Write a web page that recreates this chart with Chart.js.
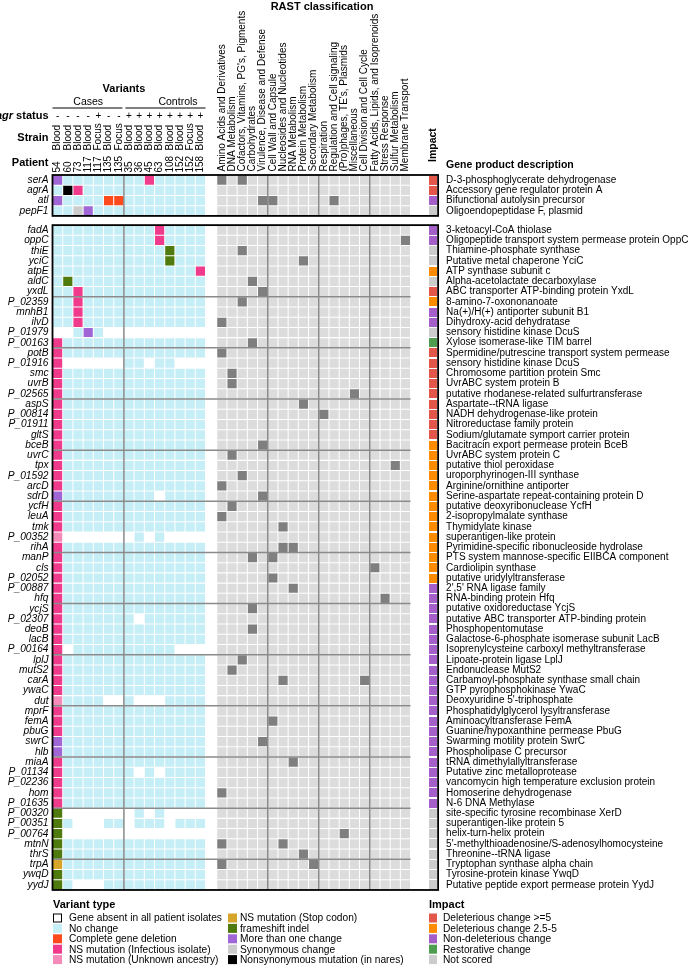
<!DOCTYPE html>
<html>
<head>
<meta charset="utf-8">
<title>Variants and RAST classification</title>
<script src="https://cdn.jsdelivr.net/npm/chart.js@4.4.1/dist/chart.umd.min.js"></script>
<style>
  html, body { margin: 0; padding: 0; background: #fff; }
  canvas { display: block; }
</style>
</head>
<body>
<canvas id="chart" width="692" height="969"></canvas>
<script>
// ---- data ----
const patients = ['54', '60', '73', '117', '117', '135', '135', '35', '36', '45', '63', '108', '152', '152', '158'];
const strains = ['Blood', 'Blood', 'Blood', 'Blood', 'Focus', 'Blood', 'Focus', 'Blood', 'Blood', 'Blood', 'Blood', 'Blood', 'Blood', 'Focus', 'Blood'];
const agrStatus = ['-', '-', '-', '-', '+', '-', '-', '+', '+', '+', '+', '+', '+', '+', '+'];
const groupNames = ['Cases', 'Controls'];
const groupSizes = [7, 8];

const rastCategories = [
  'Amino Acids and Derivatives', 'DNA Metabolism', "Cofactors, Vitamins, PG's, Pigments", 'Carbohydrates',
  'Virulence, Disease and Defense', 'Cell Wall and Capsule', 'Nucleosides and Nucleotides', 'RNA Metabolism',
  'Protein Metabolism', 'Secondary Metabolism', 'Respiration', 'Regulation and Cell signaling',
  "(Pro)phages, TE's, Plasmids", 'Miscellaneous', 'Cell Division and Cell Cycle',
  'Fatty Acids, Lipids, and Isoprenoids', 'Stress Response', 'Sulfur Metabolism', 'Membrane Transport'
];

// first 4 genes form the upper panel
const topRows = 4;
const genes = [
  'serA', 'agrA', 'atl', 'pepF1',
  'fadA', 'oppC', 'thiE', 'yciC', 'atpE', 'aldC', 'yxdL', 'P_02359', 'mnhB1', 'ilvD', 'P_01979', 'P_00163',
  'potB', 'P_01916', 'smc', 'uvrB', 'P_02565', 'aspS', 'P_00814', 'P_01911', 'gltS', 'bceB', 'uvrC', 'tpx',
  'P_01592', 'arcD', 'sdrD', 'ycfH', 'leuA', 'tmk', 'P_00352', 'rihA', 'manP', 'cls', 'P_02052', 'P_00887',
  'hfq', 'ycjS', 'P_02307', 'deoB', 'lacB', 'P_00164', 'lplJ', 'mutS2', 'carA', 'ywaC', 'dut', 'mprF', 'femA',
  'pbuG', 'swrC', 'hlb', 'miaA', 'P_01134', 'P_02236', 'hom', 'P_01635', 'P_00320', 'P_00351', 'P_00764',
  'mtnN', 'thrS', 'trpA', 'ywqD', 'yydJ'
];

const descriptions = [
  'D-3-phosphoglycerate dehydrogenase', 'Accessory gene regulator protein A', 'Bifunctional autolysin precursor',
  'Oligoendopeptidase F, plasmid',
  '3-ketoacyl-CoA thiolase', 'Oligopeptide transport system permease protein OppC', 'Thiamine-phosphate synthase',
  'Putative metal chaperone YciC', 'ATP synthase subunit c', 'Alpha-acetolactate decarboxylase',
  'ABC transporter ATP-binding protein YxdL', '8-amino-7-oxononanoate', 'Na(+)/H(+) antiporter subunit B1',
  'Dihydroxy-acid dehydratase', 'sensory histidine kinase DcuS', 'Xylose isomerase-like TIM barrel',
  'Spermidine/putrescine transport system permease', 'sensory histidine kinase DcuS',
  'Chromosome partition protein Smc', 'UvrABC system protein B', 'putative rhodanese-related sulfurtransferase',
  'Aspartate--tRNA ligase', 'NADH dehydrogenase-like protein', 'Nitroreductase family protein',
  'Sodium/glutamate symport carrier protein', 'Bacitracin export permease protein BceB', 'UvrABC system protein C',
  'putative thiol peroxidase', 'uroporphyrinogen-III synthase', 'Arginine/ornithine antiporter',
  'Serine-aspartate repeat-containing protein D', 'putative deoxyribonuclease YcfH', '2-isopropylmalate synthase',
  'Thymidylate kinase', 'superantigen-like protein', 'Pyrimidine-specific ribonucleoside hydrolase',
  'PTS system mannose-specific EIIBCA component', 'Cardiolipin synthase', 'putative uridylyltransferase',
  "2',5' RNA ligase family", 'RNA-binding protein Hfq', 'putative oxidoreductase YcjS',
  'putative ABC transporter ATP-binding protein', 'Phosphopentomutase', 'Galactose-6-phosphate isomerase subunit LacB',
  'Isoprenylcysteine carboxyl methyltransferase', 'Lipoate-protein ligase LplJ', 'Endonuclease MutS2',
  'Carbamoyl-phosphate synthase small chain', 'GTP pyrophosphokinase YwaC', "Deoxyuridine 5'-triphosphate",
  'Phosphatidylglycerol lysyltransferase', 'Aminoacyltransferase FemA', 'Guanine/hypoxanthine permease PbuG',
  'Swarming motility protein SwrC', 'Phospholipase C precursor', 'tRNA dimethylallyltransferase',
  'Putative zinc metalloprotease', 'vancomycin high temperature exclusion protein', 'Homoserine dehydrogenase',
  'N-6 DNA Methylase', 'site-specific tyrosine recombinase XerD', 'superantigen-like protein 5',
  'helix-turn-helix protein', "5'-methylthioadenosine/S-adenosylhomocysteine", 'Threonine--tRNA ligase',
  'Tryptophan synthase alpha chain', 'Tyrosine-protein kinase YwqD', 'Putative peptide export permease protein YydJ'
];

// one character per patient column:
// o absent, . no change, D deletion, P NS (infectious), U NS (unknown ancestry),
// S stop codon, F frameshift, M more than one change, Y synonymous, N nares
const calls = [
  'M........P.....', '.NP............', 'M....DD........', '..YM...........',
  '..........P....', '..........P....', '...........F...', '...........F...', '..............P',
  '.F.............', '..P............', '..P............', '..P............', '..P............',
  'oo.M.oooooooooo', 'P..............', 'P..............', 'Poooooo..o..ooo', 'P..............',
  'P..............', 'P..............', 'P..............', 'P..............', 'P..............',
  'P..............', 'P..............', 'P..............', 'P..............', 'P..............',
  'P..............', 'M.........o....', 'P..............', 'P..............', 'P..............',
  'Uooooooo.o.oooo', 'P..............', 'P..............', 'P..............', 'P..............',
  'P..............', 'P..............', 'P..............', 'P.......o......', 'P..............',
  'P..............', 'Po..........ooo', 'P..............', 'P..............', 'P..............',
  'P..............', 'U....oo.ooo....', 'P..............', 'P..............', 'P..............',
  'M..............', 'M..............', 'P..............', 'P.......o.o....', 'P..............',
  'P..............', 'P..............', 'Fooooooo.o.oooo', 'F.ooo..o...o...', 'Foooooooooooooo',
  'F..............', 'F..............', 'S..............', 'F..............', 'F.ooo..........'
];

// RAST category indexes hit by each gene
const rastHits = [
  [0, 2], [], [4, 5, 11], [],
  [], [18], [2], [8], [], [3], [4], [2], [], [0], [], [3],
  [0], [], [1], [1], [13], [8], [10], [], [], [4], [1], [17],
  [2], [0], [4], [1], [0], [6], [], [6, 7], [3, 5], [15], [5], [7],
  [16], [3], [], [3], [], [], [2], [1], [6, 14], [], [], [], [5],
  [], [4], [], [7], [], [], [0], [], [], [], [12],
  [0, 6], [8], [0, 9], [], []
];

// R >=5, O 2.5-5, N non-deleterious, E restorative, X not scored
const impact = [
  'R', 'R', 'N', 'X',
  'N', 'N', 'X', 'X', 'O', 'X', 'R', 'O', 'N', 'N', 'X', 'E',
  'R', 'R', 'R', 'R', 'R', 'R', 'R', 'R', 'R', 'O', 'O', 'O',
  'O', 'O', 'O', 'O', 'O', 'O', 'O', 'O', 'O', 'O', 'O', 'N',
  'N', 'N', 'N', 'N', 'N', 'N', 'N', 'N', 'N', 'N', 'N', 'N', 'N',
  'N', 'N', 'N', 'N', 'N', 'N', 'N', 'N', 'X', 'X', 'X',
  'X', 'X', 'X', 'X', 'X'
];

const variantTypes = [
  ['o', 'Gene absent in all patient isolates'], ['.', 'No change'], ['D', 'Complete gene deletion'],
  ['P', 'NS mutation (Infectious isolate)'], ['U', 'NS mutation (Unknown ancestry)'],
  ['S', 'NS mutation (Stop codon)'], ['F', 'frameshift indel'], ['M', 'More than one change'],
  ['Y', 'Synonymous change'], ['N', 'Nonsynonymous mutation (in nares)']
];
const impactTypes = [
  ['R', 'Deleterious change >=5'], ['O', 'Deleterious change 2.5-5'], ['N', 'Non-deleterious change'],
  ['E', 'Restorative change'], ['X', 'Not scored']
];

// ---- styles ----
const FONT = '"Liberation Sans", Arial, Helvetica, sans-serif';
const variantColor = {
  o: '#ffffff', '.': '#c6eef6', D: '#ff4a1d', P: '#f03b8d', U: '#f58bb8',
  S: '#d7a529', F: '#4f7b0e', M: '#a066d5', Y: '#cccccc', N: '#000000'
};
const impactColor = { R: '#e2574a', O: '#ff8c00', N: '#a460c8', E: '#4f9d4f', X: '#cccccc' };
const rastOff = '#dcdcdc', rastOn = '#7f7f7f';

// x units: one per column; RAST block and impact column sit to the right
const nCols = patients.length;
const rastX0 = 16.1;
const impactX = 37.3;
const xMax = 37.8;
const bottomStart = 4.9;
const yMax = 70;
const rowY = i => (i < topRows ? i + 0.5 : bottomStart + (i - topRows) + 0.5);

Chart.defaults.font.family = FONT;
Chart.defaults.color = '#000';

function cellSet(label, data, color, style) {
  return {
    label, data,
    pointStyle: style || 'rect',
    pointRadius: 6.5,
    pointHoverRadius: 6.5,
    pointBackgroundColor: color,
    pointBorderWidth: 0,
    borderWidth: 0
  };
}

function barImage(color) {
  const c = document.createElement('canvas');
  c.width = 8; c.height = 9;
  const g = c.getContext('2d');
  g.fillStyle = color;
  g.fillRect(0, 0, 8, 9);
  return c;
}

const datasets = [];
variantTypes.forEach(([code, label]) => {
  if (code === 'o') return; // absent = blank
  const pts = [];
  calls.forEach((s, r) => [...s].forEach((c, k) => {
    if (c === code) pts.push({ x: k + 0.5, y: rowY(r) });
  }));
  datasets.push(cellSet(label, pts, variantColor[code]));
});

const offPts = [], onPts = [];
genes.forEach((g, r) => rastCategories.forEach((_, j) => {
  (rastHits[r].includes(j) ? onPts : offPts).push({ x: rastX0 + j + 0.5, y: rowY(r) });
}));
datasets.push(cellSet('RAST none', offPts, rastOff));
datasets.push(cellSet('RAST hit', onPts, rastOn));

impactTypes.forEach(([code, label]) => {
  const pts = [];
  impact.forEach((c, r) => { if (c === code) pts.push({ x: impactX, y: rowY(r) }); });
  datasets.push(cellSet(label, pts, impactColor[code], barImage(impactColor[code])));
});

const rowTicks = genes.map((g, i) => ({ value: rowY(i) }));

function txt(ctx, s, x, y, font, align) {
  ctx.font = font;
  ctx.textAlign = align || 'left';
  ctx.textBaseline = 'alphabetic';
  ctx.fillText(s, x, y);
}
function vtxt(ctx, s, x, y, font) {
  ctx.save();
  ctx.translate(x, y);
  ctx.rotate(-Math.PI / 2);
  ctx.font = font;
  ctx.textAlign = 'left';
  ctx.textBaseline = 'middle';
  ctx.fillText(s, 0, 0);
  ctx.restore();
}

const annotate = {
  id: 'annotate',
  afterDatasetsDraw(chart) {
    const { ctx, scales: { x, y } } = chart;
    const X = v => x.getPixelForValue(v), Y = v => y.getPixelForValue(v);
    const nBottom = genes.length - topRows;
    const panels = [[0, topRows], [bottomStart, bottomStart + nBottom]];
    ctx.save();
    ctx.strokeStyle = '#8a8a8a';
    ctx.lineWidth = 1.5;
    ctx.beginPath();
    panels.forEach(([a, b]) => {
      [groupSizes[0], rastX0 + 5, rastX0 + 10, rastX0 + 15].forEach(v => {
        ctx.moveTo(X(v), Y(a)); ctx.lineTo(X(v), Y(b));
      });
    });
    for (let k = 7; k < nBottom; k += 5) {
      ctx.moveTo(X(0), Y(bottomStart + k));
      ctx.lineTo(X(rastX0 + rastCategories.length), Y(bottomStart + k));
    }
    ctx.stroke();
    ctx.strokeStyle = '#000';
    ctx.lineWidth = 1.8;
    panels.forEach(([a, b]) => ctx.strokeRect(X(0), Y(a), X(xMax) - X(0), Y(b) - Y(a)));
    ctx.restore();
  },
  afterDraw(chart) {
    const { ctx, scales: { x } } = chart;
    const X = v => x.getPixelForValue(v);
    ctx.save();
    ctx.fillStyle = '#000';

    // headers
    txt(ctx, 'RAST classification', 322, 10, `bold 11px ${FONT}`, 'center');
    txt(ctx, 'Variants', 124, 92, `bold 11px ${FONT}`, 'center');
    txt(ctx, groupNames[0], X(groupSizes[0] / 2), 105, `10.5px ${FONT}`, 'center');
    txt(ctx, groupNames[1], 178, 105, `10.5px ${FONT}`, 'center');
    ctx.strokeStyle = '#000';
    ctx.lineWidth = 1;
    ctx.beginPath();
    ctx.moveTo(X(0), 108); ctx.lineTo(X(groupSizes[0]) - 1.5, 108);
    ctx.moveTo(X(groupSizes[0]) + 1.5, 108); ctx.lineTo(X(nCols), 108);
    ctx.stroke();

    // agr status label: italic "agr" + bold " status"
    ctx.font = `bold 11px ${FONT}`;
    const wStatus = ctx.measureText(' status').width;
    txt(ctx, ' status', 48.5, 119, `bold 11px ${FONT}`, 'right');
    txt(ctx, 'agr', 48.5 - wStatus, 119, `italic bold 11px ${FONT}`, 'right');
    agrStatus.forEach((s, k) => txt(ctx, s, X(k + 0.5), 119, `10px ${FONT}`, 'center'));

    txt(ctx, 'Strain', 48.5, 141, `bold 11px ${FONT}`, 'right');
    strains.forEach((s, k) => vtxt(ctx, s, X(k + 0.5), 150.5, `10px ${FONT}`));
    txt(ctx, 'Patient', 48.5, 166, `bold 11px ${FONT}`, 'right');
    patients.forEach((s, k) => vtxt(ctx, s, X(k + 0.5), 172.5, `10px ${FONT}`));

    rastCategories.forEach((s, j) => vtxt(ctx, s, X(rastX0 + j + 0.5), 171.5, `10px ${FONT}`));
    vtxt(ctx, 'Impact', X(impactX), 162, `bold 10.5px ${FONT}`);
    txt(ctx, 'Gene product description', 446, 168, `bold 10.5px ${FONT}`);

    // legends
    const legY = i => 918 + i * 10.4;
    txt(ctx, 'Variant type', 53, 908, `bold 11px ${FONT}`);
    variantTypes.forEach(([code, label], i) => {
      const col = i < 5 ? 0 : 1;
      const bx = col ? 228 : 53, tx = col ? 240 : 69;
      const cy = legY(i % 5);
      ctx.fillStyle = variantColor[code];
      ctx.fillRect(bx, cy - 4.5, 9, 9);
      if (code === 'o') {
        ctx.strokeStyle = '#000'; ctx.lineWidth = 1;
        ctx.strokeRect(bx + 0.5, cy - 4, 8, 8);
      }
      ctx.fillStyle = '#000';
      ctx.font = `10.2px ${FONT}`;
      ctx.textAlign = 'left';
      ctx.textBaseline = 'middle';
      ctx.fillText(label, tx, cy + 0.5);
    });

    txt(ctx, 'Impact', 429, 908, `bold 11px ${FONT}`);
    impactTypes.forEach(([code, label], i) => {
      const cy = legY(i);
      ctx.fillStyle = impactColor[code];
      ctx.fillRect(429, cy - 4.5, 8, 9);
      ctx.fillStyle = '#000';
      ctx.font = `10.2px ${FONT}`;
      ctx.textAlign = 'left';
      ctx.textBaseline = 'middle';
      ctx.fillText(label, 443, cy + 0.5);
    });
    ctx.restore();
  }
};

new Chart(document.getElementById('chart').getContext('2d'), {
  type: 'scatter',
  data: { datasets },
  options: {
    responsive: false,
    animation: false,
    devicePixelRatio: 1,
    events: [],
    layout: { padding: { left: 0, right: 0, top: 175, bottom: 969 - 891 } },
    plugins: { legend: { display: false }, tooltip: { enabled: false } },
    scales: {
      x: { type: 'linear', min: 0, max: xMax, display: false },
      y: {
        type: 'linear', min: 0, max: yMax, reverse: true, position: 'left',
        afterFit: s => { s.width = 52.5; },
        afterBuildTicks: s => { s.ticks = rowTicks.map(t => ({ ...t })); },
        ticks: {
          autoSkip: false, padding: 4, color: '#000',
          font: { size: 10.2, style: 'italic' },
          callback: (v, i) => genes[i]
        },
        grid: { display: false, drawTicks: false },
        border: { display: false }
      },
      y2: {
        type: 'linear', min: 0, max: yMax, reverse: true, position: 'right',
        afterFit: s => { s.width = 692 - 438.1; },
        afterBuildTicks: s => { s.ticks = rowTicks.map(t => ({ ...t })); },
        ticks: {
          autoSkip: false, padding: 8, color: '#000',
          font: { size: 10 },
          callback: (v, i) => descriptions[i]
        },
        grid: { display: false, drawTicks: false },
        border: { display: false }
      }
    }
  },
  plugins: [annotate]
});
</script>
</body>
</html>
